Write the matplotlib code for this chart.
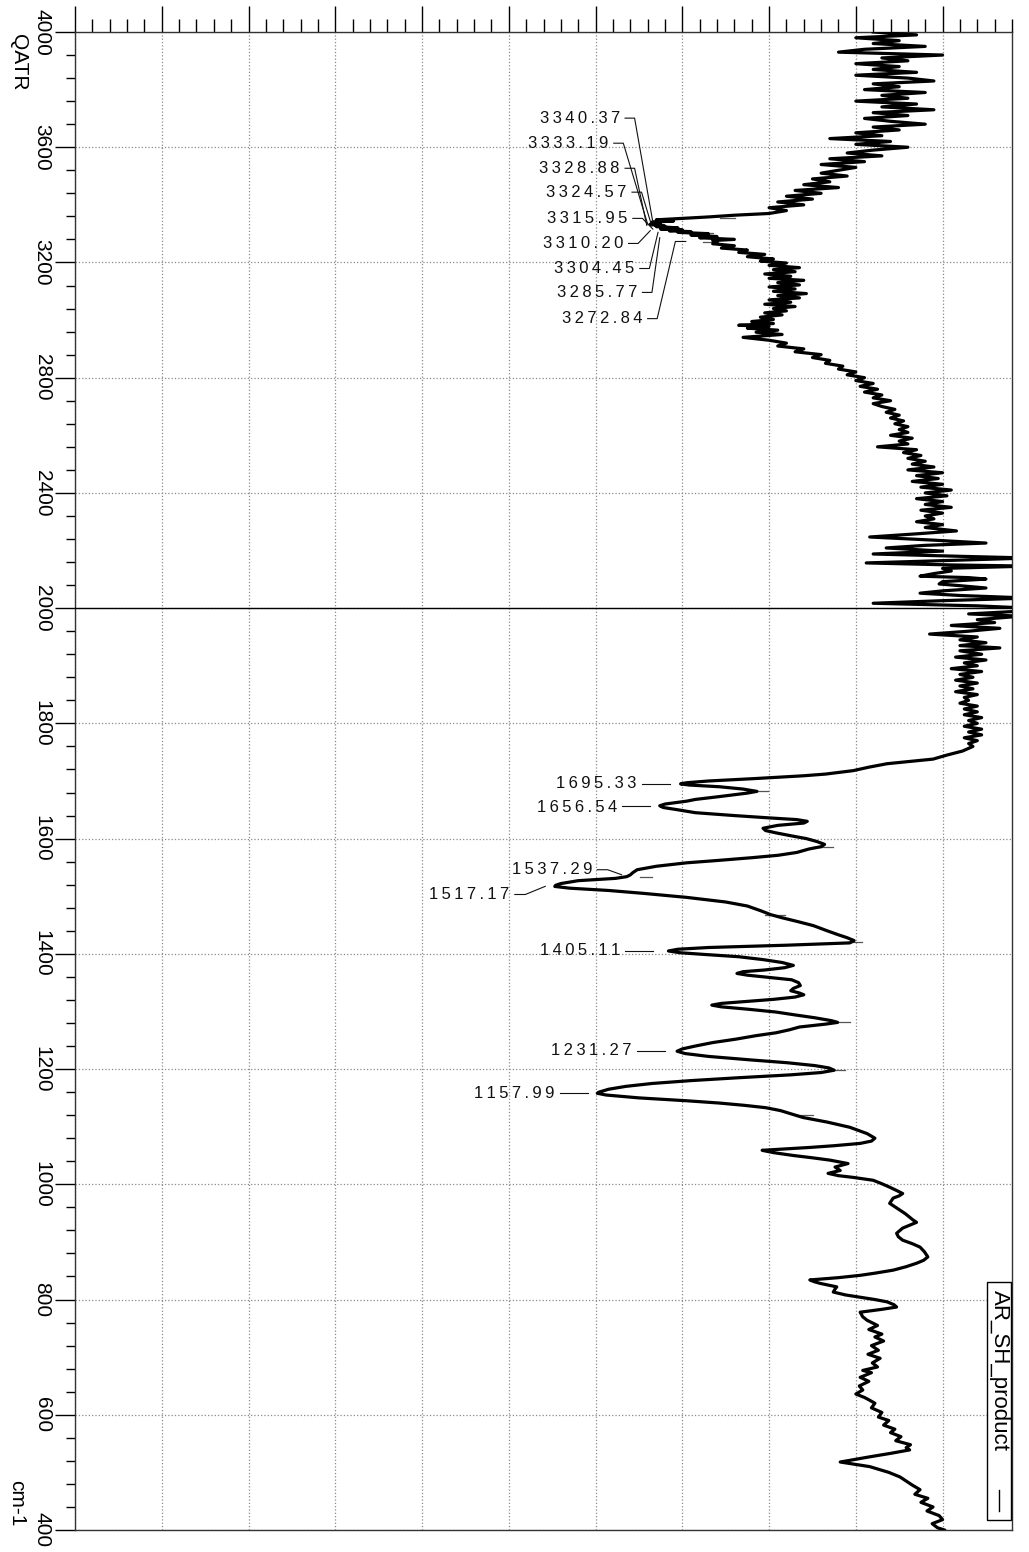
import numpy as np
import matplotlib
matplotlib.use("Agg")
import matplotlib.pyplot as plt
from matplotlib.ticker import MultipleLocator, FixedLocator
from matplotlib.patches import Rectangle

plt.rcParams["font.family"] = ["Liberation Sans", "DejaVu Sans"]

# =========================
# data (wavenumber cm-1 / transmittance-like scale 0..108)
# =========================
# noisy high region, sampled every 10 cm-1
WN_HIGH = np.arange(4000, 3375, -10)
T_HIGH = [92, 97, 90, 95, 92, 98, 91, 88, 100, 93, 96, 90, 95, 92, 97, 90,
          96, 99, 92, 95, 91, 98, 93, 96, 90, 97, 93, 99, 92, 96, 91, 94,
          98, 92, 95, 90, 93, 87, 94, 90, 96, 92, 89, 93, 87, 91, 86, 90,
          88, 86, 89, 85, 87, 84, 88, 83, 86, 82, 85, 81, 84, 80, 82]

# OH / NH band and the broad slope down to 2000
WN_MID = [3370, 3364, 3358, 3353, 3348, 3344, 3340, 3336, 3333, 3330,
          3328.9, 3326, 3324.6, 3320, 3316, 3313, 3310, 3307, 3304.5, 3300,
          3295, 3290, 3285.8, 3280, 3276, 3272.8, 3265, 3258, 3250, 3243,
          3235, 3228, 3220, 3212, 3205, 3198, 3190, 3182, 3175, 3168,
          3160, 3152, 3145, 3138, 3130, 3122, 3115, 3108, 3100, 3092,
          3085, 3077, 3070, 3062, 3055, 3047, 3040, 3032, 3025, 3018,
          3010, 3002, 2995, 2988, 2982, 2978, 2972, 2965, 2958, 2950,
          2940, 2930, 2920, 2910, 2900, 2890, 2880, 2870, 2860, 2850,
          2840, 2830, 2820, 2810, 2800, 2790, 2780, 2770, 2760, 2750,
          2740, 2730, 2720, 2710, 2700, 2690, 2680, 2670, 2660, 2650,
          2640, 2630, 2620, 2610, 2600, 2590, 2580, 2570, 2560, 2550,
          2540, 2530, 2520, 2510, 2500, 2490, 2480, 2470, 2460, 2450,
          2440, 2430, 2420, 2410, 2400, 2390, 2380, 2370, 2360, 2350,
          2340, 2330, 2320, 2310, 2300, 2290, 2280, 2268, 2258, 2247,
          2236, 2226, 2218, 2209, 2198, 2188, 2180, 2174, 2165, 2157,
          2150, 2146, 2138, 2129, 2120, 2111, 2106, 2101, 2092, 2084,
          2078, 2070, 2060, 2052, 2044, 2035, 2026, 2017, 2008, 2000]
T_MID = [80, 76, 73, 70, 67, 69, 66.5, 67.5, 66.3, 67.5,
         66.8, 68, 67, 69.5, 67.5, 70, 68.5, 71, 69.5, 73,
         71, 74, 72, 76, 73.5, 74, 73.5, 76, 74.5, 77.5,
         76.5, 79.5, 77.5, 80.5, 79, 82, 80, 83.5, 80.5, 83,
         79.5, 82.5, 80, 84, 81, 83.5, 80, 83, 80.5, 84.3,
         81, 83.5, 80, 82.5, 79.5, 83, 80.5, 82, 79.5, 81.5,
         79, 80.5, 78, 80.5, 76.5, 80, 77.5, 81, 78.5, 81.5,
         77, 80, 82, 81, 84, 83, 86, 85, 87, 86.5,
         88.5, 88, 90, 89, 91, 90, 92, 90.5, 92.5, 91,
         93, 92, 94, 92, 93, 94.5, 93.5, 95, 94, 95.5,
         94.5, 96, 95, 96, 94, 96.5, 95, 96, 92.5, 97,
         95.5, 97.5, 96, 98, 96.5, 99, 96, 100, 97, 99.5,
         96.5, 100, 97.5, 101, 98, 100.5, 97, 100, 98, 101,
         97.5, 100, 98, 99, 97, 100, 98, 101.6, 97, 91.6,
         99, 105, 98, 93.5, 100, 92, 102, 110, 100, 91.2,
         101, 110, 100, 101, 99, 97.4, 103, 105, 100, 99.6,
         102, 105, 100, 97.4, 102, 110, 100, 92, 104, 110]

# noisy plateau just below 2000
WN_PLATEAU = [1994, 1990, 1986, 1980, 1975, 1970, 1965, 1960, 1955, 1950,
              1945, 1940, 1935, 1931, 1926, 1920, 1915, 1910, 1905, 1900,
              1895, 1890, 1885, 1880, 1875, 1870, 1865, 1860, 1855, 1850,
              1845, 1840, 1835, 1830, 1825, 1820, 1815, 1810, 1805, 1800,
              1795, 1790, 1785, 1780, 1775, 1770, 1765]
T_PLATEAU = [108, 103, 109, 104, 106, 101, 106.6, 103, 98.5, 104,
             102, 105, 102, 106.6, 102, 104.5, 101.5, 105, 102.5, 104,
             101, 104.5, 102, 103.5, 101.5, 104, 102, 103.5, 101.5, 104,
             102.5, 103, 102, 104, 102.5, 104, 102.5, 104.5, 103, 104,
             102.5, 104.5, 103, 104.5, 102.5, 104, 103]

# main absorption bands
WN_BANDS = [1760, 1752, 1745, 1738, 1730, 1724, 1718, 1712, 1709, 1704,
            1700, 1697, 1695, 1693, 1690, 1686, 1682, 1679, 1673, 1668,
            1665, 1660, 1657, 1654, 1650, 1645, 1640, 1636, 1633, 1630,
            1627, 1623, 1618, 1614, 1610, 1605, 1600, 1595, 1590, 1586,
            1582, 1576, 1571, 1567, 1562, 1558, 1552, 1546, 1541, 1537,
            1534, 1531, 1527, 1522, 1519, 1517, 1514, 1510, 1505, 1498,
            1490, 1483, 1475, 1468, 1463, 1456, 1449, 1440, 1433, 1428,
            1423, 1419, 1415, 1411, 1408, 1405, 1402, 1399, 1395, 1390,
            1385, 1380, 1376, 1372, 1369, 1366, 1363, 1359, 1355, 1350,
            1345, 1340, 1336, 1332, 1329, 1325, 1321, 1317, 1314, 1311,
            1308, 1304, 1299, 1294, 1289, 1284, 1281, 1278, 1273, 1268,
            1263, 1258, 1252, 1246, 1240, 1235, 1231, 1227, 1222, 1216,
            1211, 1206, 1202, 1198, 1194, 1190, 1185, 1180, 1175, 1170,
            1165, 1160, 1158, 1155, 1150, 1145, 1141, 1137, 1133, 1128]
T_BANDS = [103.5, 102.3, 100.5, 98.9, 93.6, 91.5, 89.7, 86.5, 83.9, 78.1,
           73, 70.5, 69.8, 70.8, 74.3, 77, 78.6, 77.5, 74.3, 71.5,
           70.5, 68, 67.4, 67.8, 69.5, 71.5, 76, 80, 83.2, 84.4,
           84, 81, 79.3, 79.6, 80.8, 82.5, 84.3, 85.5, 86.4, 86.0,
           84.6, 83.2, 81, 78.1, 74, 70.5, 67, 64.8, 64.3, 64.0,
           63.6, 62.3, 58, 56, 55.4, 55.3, 57, 61.5, 65.5, 70.5,
           75, 77.5, 79.0, 80.2, 81.4, 83.3, 85.1, 86.7, 88, 89.0,
           89.8, 89.3, 82, 73, 69.5, 68.4, 69.7, 72.5, 76.5, 79.3,
           81.5, 82.8, 81.8, 79.5, 77, 76.3, 77.5, 80.1, 82.6, 83.4,
           83.6, 82.8, 82.5, 83.5, 84.0, 83, 80.5, 77, 74.5, 73.4,
           74.5, 77.5, 80.8, 83, 85.3, 87.2, 87.9, 86.5, 83.5, 82.3,
           80.8, 78.5, 76.2, 73.5, 71.5, 70, 69.4, 70.3, 73, 77.8,
           82.1, 85.3, 86.9, 87.5, 86, 82.5, 76.5, 71, 66.5, 63.5,
           61.5, 60.4, 60.2, 61.2, 65, 70.5, 74.3, 77.2, 79.6, 81.3]

# low-wavenumber tail
WN_TAIL = [1116, 1108, 1099, 1088, 1080, 1075, 1071, 1067, 1064, 1061,
           1059, 1055, 1050, 1046, 1042, 1036, 1030, 1024, 1019, 1015,
           1012, 1007, 1001, 995, 990, 984, 980, 976, 967, 961,
           955, 949, 943, 938, 934, 929, 924, 915, 909, 903,
           897, 891, 883, 874, 868, 863, 857, 851, 846, 842,
           838, 834, 831, 828, 822, 818, 813, 808, 804, 800,
           796, 791, 787, 783, 778, 770,
           764, 755, 748, 740, 735, 728, 720, 712, 705, 698,
           690, 683, 677, 673, 665, 658, 650, 643, 636, 630,
           626, 620, 612, 604, 596, 590, 582, 575, 569, 562,
           555, 548, 543, 539, 533, 527, 518, 510, 500, 492,
           485, 478, 470, 462, 455, 448, 440, 433, 425, 418,
           411, 404, 400]
T_TAIL = [83.9, 86.7, 89.3, 91.3, 92.2, 91.8, 90.5, 87.5, 84.7, 81.5,
          79.2, 80.5, 82.8, 85, 87.0, 89.1, 87.6, 88.2, 86.8, 88,
          89.7, 92, 93, 93.9, 94.6, 95.4, 95, 94.3, 93.9, 94.5,
          95.1, 95.7, 96.2, 96.6, 97.0, 96.2, 95.4, 94.7, 94.9, 95.4,
          96.5, 97.4, 97.9, 98.3, 97.8, 97.0, 95.8, 94.3, 92.3, 90.5,
          88, 84.7, 85.2, 85.9, 87.8, 87.6, 87.4, 88.8, 90.5, 92.2,
          93.6, 94.4, 94.7, 93, 90.5, 90.8,
          91.3, 92.5, 91.5, 93, 92.2, 93.2, 91.8, 92.6, 91.4, 92.8,
          91.9, 92.5, 90.8, 91.8, 90.5, 91.5, 90.4, 90.8, 90.0, 91.0,
          91.5, 92.2, 91.8, 93.0, 92.6, 93.8, 93.2, 94.5, 94.0, 95.2,
          94.6, 96.3, 95.8, 96.2, 94, 91.6, 88.2, 91.6, 93.8, 95.1,
          95.8, 96.5, 97.4, 96.8, 98.3, 97.5, 98.9, 98.2, 99.6, 100,
          98.8, 99.4, 100.2]

# picked peaks
PEAK_LABELS = ["3340.37", "3333.19", "3328.88", "3324.57", "3315.95", "3310.20",
               "3304.45", "3285.77", "3272.84", "1695.33", "1656.54", "1537.29",
               "1517.17", "1405.11", "1231.27", "1157.99"]
PEAK_WN = [3340.37, 3333.19, 3328.88, 3324.57, 3315.95, 3310.20, 3304.45,
           3285.77, 3272.84, 1695.33, 1656.54, 1537.29, 1517.17, 1405.11,
           1231.27, 1157.99]
PEAK_T = [66.6, 66.0, 65.9, 66.5, 66.6, 66.3, 67.2, 67.4, 69.2,
          68.6, 66.3, 63.0, 54.2, 66.6, 68.0, 59.1]

# small residual marks next to local maxima
MARK_WN = [3353, 3301, 3270, 1682, 1586, 1534, 1468, 1421, 1281, 1198, 1121]
MARK_LO = [74.3, 72.0, 72.4, 78.1, 85.1, 65.1, 79.5, 89.1, 87.4, 87.0, 83.2]
MARK_HI = [76.1, 73.5, 74.1, 79.9, 87.4, 66.5, 81.8, 90.7, 89.3, 88.8, 85.1]

LEGEND_NAME = "AR_SH_product"

# =========================
# layout helpers
# =========================
W, H = 1029, 1552


def fwd(w):
    # 4000-2000 compressed 2x against 2000-400
    w = np.asarray(w, dtype=float)
    return np.where(w >= 2000, 1600 + (w - 2000) / 2.0, w - 400)


def inv(p):
    p = np.asarray(p, dtype=float)
    return np.where(p >= 1600, 2000 + (p - 1600) * 2.0, p + 400)


def spaced(s):
    return "\u2009".join(s)


fig = plt.figure(figsize=(W / 100, H / 100), dpi=100)
ax = fig.add_axes([75 / W, 22 / H, 937 / W, 1498 / H])
ax.set_yscale("function", functions=(fwd, inv))
ax.set_ylim(400, 4000)
ax.set_xlim(0, 108)

# ticks
ax.xaxis.tick_top()
ax.xaxis.set_major_locator(MultipleLocator(10))
ax.xaxis.set_minor_locator(MultipleLocator(2))
ax.tick_params(axis="x", which="major", length=18.7, width=1.0, direction="out",
               labeltop=False, labelbottom=False, bottom=False)
ax.tick_params(axis="x", which="minor", length=9.4, width=1.0, direction="out",
               bottom=False)

y_major = [4000, 3600, 3200, 2800, 2400, 2000, 1800, 1600, 1400, 1200, 1000, 800, 600, 400]
y_minor = list(range(3920, 2000, -80)) + list(range(1960, 400, -40))
ax.yaxis.set_major_locator(FixedLocator(y_major))
ax.yaxis.set_minor_locator(FixedLocator(y_minor))
ax.tick_params(axis="y", which="major", length=14.4, width=1.0, labelleft=False)
ax.tick_params(axis="y", which="minor", length=6.5, width=1.0)

ax.grid(which="major", linestyle=":", color="#8a8a8a", linewidth=0.9)
for sp in ax.spines.values():
    sp.set_linewidth(1.0)
    sp.set_color("#333333")
ax.axhline(2000, color="black", linewidth=1.0, zorder=3)

# tick labels (rotated, as on the printed page)
ylab_tr = ax.get_yaxis_transform()
for v in y_major:
    ax.text(-33 / 937, v, str(v), transform=ylab_tr, rotation=-90,
            ha="center", va="center", fontsize=15)
fig.text(18 / W, 1 - 62 / H, "QATR", rotation=-90, ha="center", va="center", fontsize=15)
fig.text(17 / W, 1 - 1503 / H, "cm-1", rotation=-90, ha="center", va="center", fontsize=15)

# spectrum
wn = np.concatenate([WN_HIGH, WN_MID, WN_PLATEAU, WN_BANDS, WN_TAIL])
tt = np.concatenate([T_HIGH, T_MID, T_PLATEAU, T_BANDS, T_TAIL])
ax.plot(tt, wn, color="black", linewidth=2.3, solid_joinstyle="round", zorder=4)

for w_, lo, hi in zip(MARK_WN, MARK_LO, MARK_HI):
    ax.plot([lo, hi], [w_, w_], color="#555555", linewidth=0.9, zorder=3)

# peak annotations: label (x_right, wn_text), leader path
LABEL_POS = [(62.8, 3701), (61.5, 3614), (62.8, 3527), (63.6, 3444), (63.7, 3353),
             (63.2, 3266), (64.5, 3179), (64.8, 3096), (65.4, 3005),
             (64.7, 1695), (62.5, 1653.5), (59.6, 1546), (50.1, 1503),
             (62.8, 1405), (64.2, 1232), (55.3, 1158)]
for lab, pw, pt, (lx, lw_) in zip(PEAK_LABELS, PEAK_WN, PEAK_T, LABEL_POS):
    ax.text(lx, lw_, spaced(lab), ha="right", va="center", fontsize=12,
            color="#111111", zorder=5)
    x0 = lx + 0.6
    if pw > 3000:
        xs = [x0, x0 + 1.1, pt]
        ys = [lw_, lw_, pw]
        if lab == "3272.84":
            xs.append(pt + 1.2)
            ys.append(pw)
    elif lab in ("1537.29", "1517.17"):
        xs = [x0, x0 + 1.2, pt]
        ys = [lw_, lw_, pw]
    else:
        xs = [x0, pt]
        ys = [pw, pw]
    ax.plot(xs, ys, color="#111111", linewidth=0.8, zorder=5)

# legend box (rotated)
fig.patches.append(Rectangle((987 / W, 1 - 1520 / H), 24 / W, 238 / H,
                             transform=fig.transFigure, fill=True, facecolor="white",
                             edgecolor="black", linewidth=1.0, zorder=6))
fig.text(999 / W, 1 - 1290 / H, LEGEND_NAME, rotation=-90, ha="center", va="top",
         fontsize=16, zorder=7)
fig.add_artist(plt.Line2D([999 / W, 999 / W], [1 - 1490 / H, 1 - 1511 / H],
                          transform=fig.transFigure, color="black", linewidth=1.0, zorder=7))

fig.savefig("out.png", dpi=100)
